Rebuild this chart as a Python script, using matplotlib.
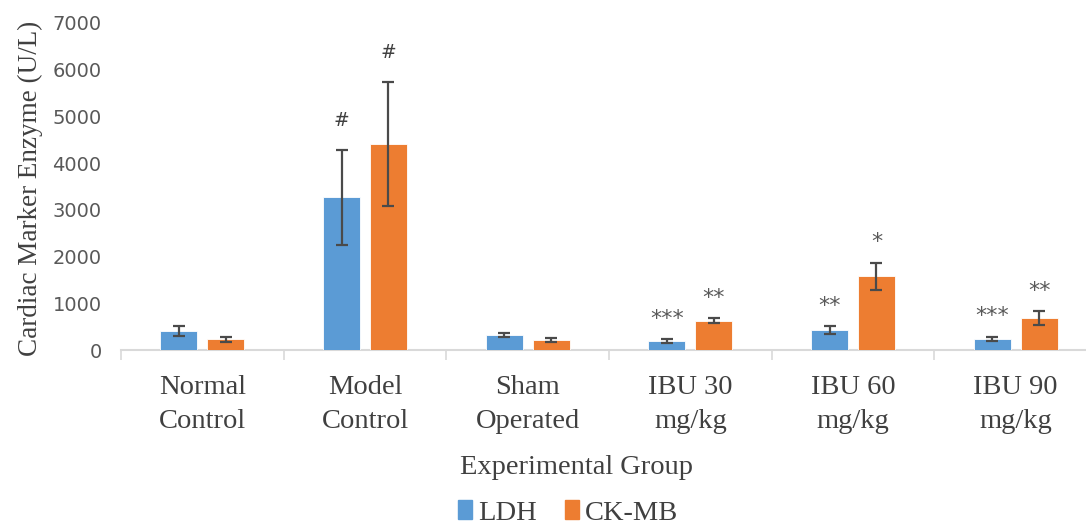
import matplotlib
matplotlib.use("Agg")
import matplotlib.pyplot as plt
from matplotlib.patches import Patch
import numpy as np

# ── Data ──────────────────────────────────────────────────────────────────────
groups = ["Normal\nControl", "Model\nControl", "Sham\nOperated",
          "IBU 30\nmg/kg", "IBU 60\nmg/kg", "IBU 90\nmg/kg"]
ldh = [410, 3270, 320, 185, 425, 235]
ldh_err = [107, 1020, 43, 43, 80, 50]
ckmb = [225, 4410, 215, 625, 1575, 675]
ckmb_err = [45, 1325, 43, 52, 290, 150]
ldh_sig = ["", "#", "", "***", "**", "***"]
ckmb_sig = ["", "#", "", "**", "*", "**"]

# ── Style ─────────────────────────────────────────────────────────────────────
BLUE = "#5B9BD5"
ORANGE = "#ED7D31"
AXIS_GRAY = "#D9D9D9"
TEXT_GRAY = "#595959"
DARK_TEXT = "#404040"
ERR_COLOR = "#4A4A4A"
SERIF = ["Liberation Serif", "DejaVu Serif"]

fig = plt.figure(figsize=(10.86, 5.31), dpi=100, facecolor="white")
ax = fig.add_axes([121 / 1086, 1 - 350 / 531, 976 / 1086, 327 / 531])

x = np.arange(len(groups))
w = 0.227
off = 0.144

err_kw = dict(ecolor=ERR_COLOR, elinewidth=1.6, capsize=4.5, capthick=1.6)
ax.bar(x - off, ldh, w, color=BLUE, edgecolor="white", linewidth=0.6,
       yerr=ldh_err, error_kw=err_kw, zorder=3)
ax.bar(x + off, ckmb, w, color=ORANGE, edgecolor="white", linewidth=0.6,
       yerr=ckmb_err, error_kw=err_kw, zorder=3)

# significance marks above the error bars
for xs, vals, errs, sigs in [(x - off, ldh, ldh_err, ldh_sig),
                             (x + off, ckmb, ckmb_err, ckmb_sig)]:
    for xi, v, e, s in zip(xs, vals, errs, sigs):
        if not s:
            continue
        if s == "#":
            ax.annotate(s, xy=(xi, v + e), xytext=(0, 21), textcoords="offset points",
                        ha="center", va="center", fontsize=13.5, color=DARK_TEXT)
        else:
            ax.annotate(s, xy=(xi, v + e), xytext=(0, 15), textcoords="offset points",
                        ha="center", va="center", fontsize=16, color=TEXT_GRAY)

# ── Axes styling ──────────────────────────────────────────────────────────────
ax.set_xlim(-0.5, len(groups) - 0.5)
ax.set_ylim(0, 7000)
ax.set_yticks(np.arange(0, 7001, 1000))
ax.tick_params(axis="y", length=0, pad=14, labelsize=14, labelcolor=TEXT_GRAY)

ax.set_xticks(x)
ax.set_xticklabels(groups, fontsize=20.5, color=DARK_TEXT, family=SERIF,
                   linespacing=1.5)
ax.set_xticks(np.arange(-0.5, len(groups)), minor=True)
ax.tick_params(axis="x", which="major", length=0, pad=18)
ax.tick_params(axis="x", which="minor", length=7, width=1.2, color=AXIS_GRAY)

for side in ["top", "right", "left"]:
    ax.spines[side].set_visible(False)
ax.spines["bottom"].set_color(AXIS_GRAY)
ax.spines["bottom"].set_linewidth(1.5)

fig.text(30 / 1086, 1 - 188 / 531, "Cardiac Marker Enzyme (U/L)", rotation=90,
         ha="center", va="center", fontsize=19.5, color=DARK_TEXT, family=SERIF)
fig.text(577 / 1086, 1 - 467 / 531, "Experimental Group",
         ha="center", va="center", fontsize=20.5, color=DARK_TEXT, family=SERIF)

handles = [Patch(color=BLUE, label="LDH"), Patch(color=ORANGE, label="CK-MB")]
leg = fig.legend(handles=handles, loc="center", bbox_to_anchor=(568 / 1086, 1 - 513 / 531),
                 ncol=2, frameon=False, handlelength=0.5, handleheight=0.6,
                 handletextpad=0.2, columnspacing=1.0, borderpad=0.1,
                 prop={"family": SERIF, "size": 20.5})
for t in leg.get_texts():
    t.set_color(DARK_TEXT)

fig.savefig("out.png", dpi=100, facecolor="white")
